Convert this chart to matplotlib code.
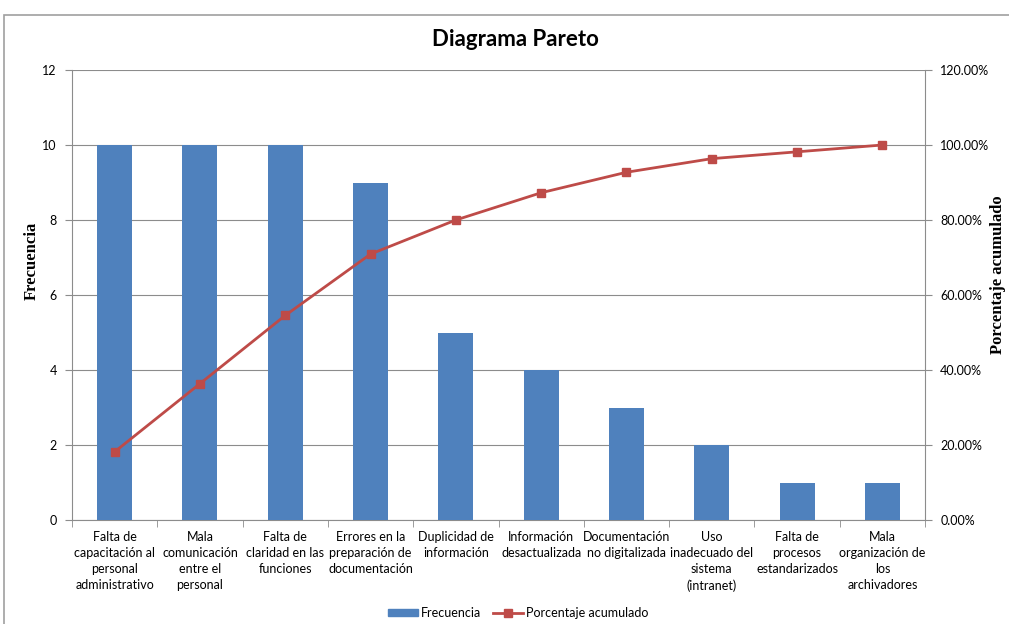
import matplotlib
matplotlib.use("Agg")
import matplotlib.pyplot as plt
from matplotlib.patches import Rectangle
from matplotlib.lines import Line2D
from matplotlib.ticker import FuncFormatter, FixedLocator

plt.rcParams['font.family'] = ['Lato', 'DejaVu Sans']

# data
categorias = ['Falta de\ncapacitación al\npersonal\nadministrativo',
              'Mala\ncomunicación\nentre el\npersonal',
              'Falta de\nclaridad en las\nfunciones',
              'Errores en la\npreparación de\ndocumentación',
              'Duplicidad de\ninformación',
              'Información\ndesactualizada',
              'Documentación\nno digitalizada',
              'Uso\ninadecuado del\nsistema\n(intranet)',
              'Falta de\nprocesos\nestandarizados',
              'Mala\norganización de\nlos\narchivadores']
frecuencia = [10, 10, 10, 9, 5, 4, 3, 2, 1, 1]
porcentaje = [18.18, 36.36, 54.55, 70.91, 80.00, 87.27, 92.73, 96.36, 98.18, 100.00]

bar_color = '#4F81BD'
line_color = '#BE4B48'
grid_color = '#8C8C8C'

fig = plt.figure(figsize=(10.09, 6.24), dpi=100)
# chart frame (Excel style)
fig.patches.append(Rectangle((4/1009, -0.05), 1.1, 1 - 15/624 + 0.05,
                             transform=fig.transFigure, fill=False,
                             edgecolor='#A0A0A0', linewidth=1.2))

ax = fig.add_axes([72/1009, 1 - 520/624, 853/1009, 450/624])
x = list(range(len(categorias)))
ax.bar(x, frecuencia, width=0.41, color=bar_color, zorder=3)
ax.set_xlim(-0.5, len(categorias) - 0.5)
ax.set_ylim(0, 12)
ax.set_yticks(range(0, 13, 2))
ax.yaxis.grid(True, color=grid_color, linewidth=0.8)
ax.set_axisbelow(True)

ax.set_xticks(x)
ax.set_xticklabels(categorias, fontsize=9, color='black', linespacing=1.4)
ax.tick_params(axis='x', length=0, pad=8)
ax.xaxis.set_minor_locator(FixedLocator([i + 0.5 for i in range(-1, len(categorias))]))
ax.tick_params(axis='x', which='minor', length=5, color=grid_color, direction='out')
ax.tick_params(axis='y', length=5, color=grid_color, labelsize=9, labelcolor='black', pad=6)

for s in ['top', 'right']:
    ax.spines[s].set_visible(False)
for s in ['left', 'bottom']:
    ax.spines[s].set_color(grid_color)
    ax.spines[s].set_linewidth(0.8)

ax.set_ylabel('Frecuencia', family='Liberation Serif', fontweight='bold', fontsize=12)
ax.yaxis.set_label_coords(-0.038, 0.575)

ax2 = ax.twinx()
ax2.plot(x, porcentaje, color=line_color, linewidth=2, marker='s',
         markersize=6, zorder=4)
ax2.set_ylim(0, 120)
ax2.set_yticks(range(0, 121, 20))
ax2.yaxis.set_major_formatter(FuncFormatter(lambda v, p: f'{v:.2f}%'))
ax2.tick_params(axis='y', length=5, color=grid_color, labelsize=9, labelcolor='black', pad=6)
for s in ['top', 'left', 'bottom']:
    ax2.spines[s].set_visible(False)
ax2.spines['right'].set_color(grid_color)
ax2.spines['right'].set_linewidth(0.8)
ax2.set_ylabel('Porcentaje acumulado', family='Liberation Serif', fontweight='bold',
               fontsize=12, rotation=90)
ax2.yaxis.set_label_coords(1.076, 0.545)

fig.text(515/1009, 1 - 40/624, 'Diagrama Pareto', ha='center', va='center',
         fontsize=16, fontweight='bold')

handles = [Rectangle((0, 0), 1, 1, color=bar_color),
           Line2D([], [], color=line_color, linewidth=2, marker='s', markersize=6)]
fig.legend(handles, ['Frecuencia', 'Porcentaje acumulado'], loc='center',
           bbox_to_anchor=(518/1009, 1 - 613/624), ncol=2, frameon=False,
           fontsize=9, handlelength=2.4, handleheight=0.4, columnspacing=1.0,
           handletextpad=0.2)

fig.savefig('out.png', dpi=100)
